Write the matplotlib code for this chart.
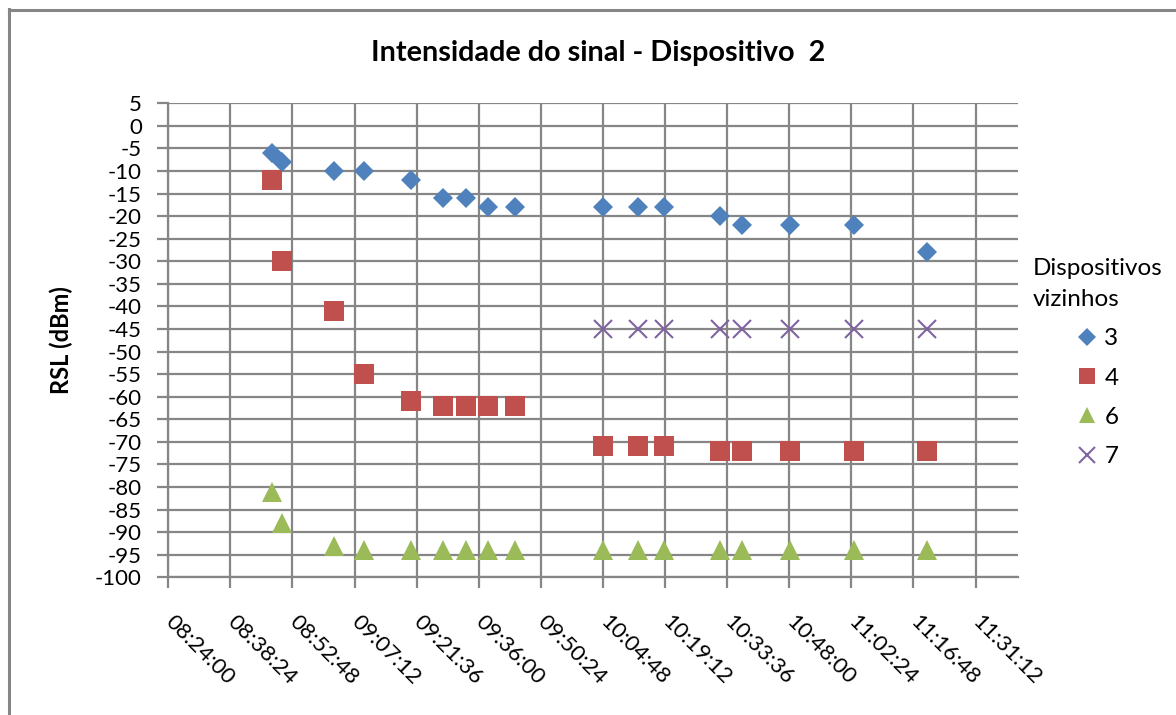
import matplotlib
matplotlib.use('Agg')
import matplotlib.pyplot as plt
from matplotlib.ticker import FixedLocator, FuncFormatter
from matplotlib.lines import Line2D

plt.rcParams['font.family'] = ['Lato', 'DejaVu Sans']
plt.rcParams['axes.unicode_minus'] = False

# measurement times (hh:mm:ss)
times_a = ['08:48:07', '08:50:18', '09:02:25', '09:09:27', '09:20:12',
           '09:27:46', '09:32:58', '09:38:04', '09:44:19',
           '10:04:48', '10:12:51', '10:19:01', '10:32:00', '10:37:06',
           '10:48:06', '11:03:04', '11:20:00']
times_b = times_a[9:]  # device 7 only seen in the second session

rsl_3 = [-6, -8, -10, -10, -12, -16, -16, -18, -18,
         -18, -18, -18, -20, -22, -22, -22, -28]
rsl_4 = [-12, -30, -41, -55, -61, -62, -62, -62, -62,
         -71, -71, -71, -72, -72, -72, -72, -72]
rsl_6 = [-81, -88, -93, -94, -94, -94, -94, -94, -94,
         -94, -94, -94, -94, -94, -94, -94, -94]
rsl_7 = [-45, -45, -45, -45, -45, -45, -45, -45]

x_ticks = ['08:24:00', '08:38:24', '08:52:48', '09:07:12', '09:21:36',
           '09:36:00', '09:50:24', '10:04:48', '10:19:12', '10:33:36',
           '10:48:00', '11:02:24', '11:16:48', '11:31:12']


def day_frac(s):
    h, m, sec = [int(v) for v in s.split(':')]
    return (h * 3600 + m * 60 + sec) / 86400.0


def fmt_time(v, pos=None):
    tot = int(round(v * 86400))
    return '%02d:%02d:%02d' % (tot // 3600, (tot // 60) % 60, tot % 60)


xa = [day_frac(t) for t in times_a]
xb = [day_frac(t) for t in times_b]
xt = [day_frac(t) for t in x_ticks]

grid_c = '#868686'
W, H = 1176, 715
fig = plt.figure(figsize=(W / 100, H / 100), dpi=100)

# chart border (left and top edges visible)
fig.add_artist(Line2D([9 / W, 9 / W], [0, 1 - 9 / H], color=grid_c, lw=2.2,
                      transform=fig.transFigure))
fig.add_artist(Line2D([9 / W, 1], [1 - 10 / H, 1 - 10 / H], color=grid_c, lw=2.2,
                      transform=fig.transFigure))

ax = fig.add_axes([168.3 / W, (H - 577.3) / H, (1018 - 168.3) / W, 474 / H])

ax.plot(xa, rsl_3, ls='none', marker='D', ms=10.3, color='#4F81BD', mew=0, label='3', zorder=3)
ax.plot(xa, rsl_4, ls='none', marker='s', ms=14.2, color='#C0504D', mew=0, label='4', zorder=3)
ax.plot(xa, rsl_6, ls='none', marker='^', ms=14.2, color='#9BBB59', mew=0, label='6', zorder=3)
ax.plot(xb, rsl_7, ls='none', marker='x', ms=13.5, color='#8064A2', mew=1.5, label='7', zorder=3)

ax.set_xlim(0.35, 0.48683)
ax.set_ylim(-100, 5)
ax.xaxis.set_major_locator(FixedLocator(xt))
ax.xaxis.set_major_formatter(FuncFormatter(fmt_time))
ax.set_yticks(range(-100, 6, 5))

ax.grid(True, color=grid_c, lw=1.6)
ax.set_axisbelow(True)
for side in ['top', 'right']:
    ax.spines[side].set_visible(False)
for side in ['left', 'bottom']:
    ax.spines[side].set_color(grid_c)
    ax.spines[side].set_linewidth(1.6)
ax.tick_params(axis='both', direction='out', length=8, width=1.6, color=grid_c,
               labelsize=16)
ax.tick_params(axis='y', pad=11)
ax.tick_params(axis='x', pad=22)
for lbl in ax.get_xticklabels():
    lbl.set_rotation(-45)
    lbl.set_ha('left')
    lbl.set_va('center')
    lbl.set_rotation_mode('anchor')

ax.set_ylabel('RSL (dBm)', fontsize=17, fontweight='bold')
ax.yaxis.set_label_coords((73 - 168.3) / 849.7, 0.5)
fig.text(598 / W, 1 - 53 / H, 'Intensidade do sinal - Dispositivo  2',
         ha='center', va='center', fontsize=20.7, fontweight='bold')

leg = fig.legend(loc='upper center', bbox_to_anchor=(1098 / W, 1 - 236 / H),
                 title='Dispositivos\nvizinhos', frameon=False, fontsize=17.5,
                 title_fontsize=17.5, handlelength=0.8, handletextpad=0.3,
                 labelspacing=0.75, markerscale=0.85)
leg.get_title().set_linespacing(1.6)

fig.savefig('out.png', dpi=100)
